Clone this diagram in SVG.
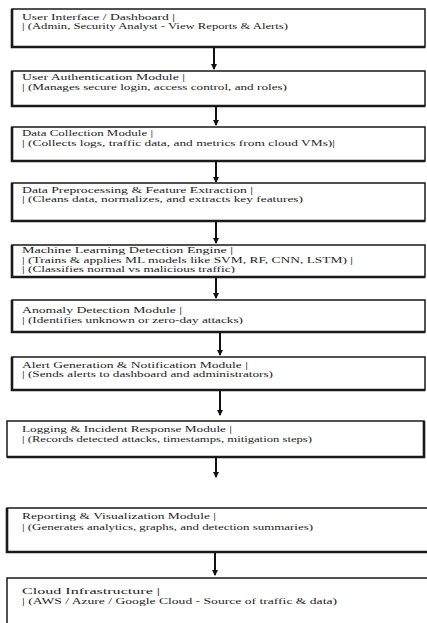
<svg xmlns="http://www.w3.org/2000/svg" width="427" height="623" viewBox="0 0 427 623">
<style>
.box{fill:#fff;stroke:#1a1a1a;stroke-width:1.5}
.sh{fill:none;stroke:#1a1a1a;stroke-width:2.6}
.t{font-family:"Liberation Serif","Times New Roman",serif;font-size:9px;fill:#222}
.c{stroke:#111;stroke-width:2;fill:none;marker-end:url(#ah)}
</style>
<defs>
<marker id="ah" markerWidth="7" markerHeight="6" refX="5" refY="3" orient="auto" markerUnits="userSpaceOnUse">
<path d="M0,0 L6,3 L0,6 Z" fill="#111"/>
</marker>
</defs>
<rect width="427" height="623" fill="#fff"/>
<g id="connectors">
<line class="c" x1="214" y1="47" x2="214" y2="69"/>
<line class="c" x1="216" y1="106" x2="216" y2="125"/>
<line class="c" x1="216" y1="161" x2="216" y2="182"/>
<line class="c" x1="216" y1="221" x2="216" y2="243"/>
<line class="c" x1="216" y1="277" x2="216" y2="298"/>
<line class="c" x1="220" y1="332" x2="220" y2="355"/>
<line class="c" x1="220" y1="390" x2="220" y2="415"/>
<line class="c" x1="216" y1="457" x2="216" y2="477"/>
<line class="c" x1="215" y1="552" x2="215" y2="575"/>
</g>
<g id="n1">
<rect class="box" x="12" y="9" width="413" height="38"/>
<path class="sh" d="M12,9 V47 H425"/>
<text class="t" x="22" y="19.5" textLength="153" lengthAdjust="spacingAndGlyphs">User Interface / Dashboard |</text>
<text class="t" x="22" y="29.3" textLength="266" lengthAdjust="spacingAndGlyphs">| (Admin, Security Analyst - View Reports &amp; Alerts)</text>
</g>
<g id="n2">
<rect class="box" x="12" y="71" width="413" height="35"/>
<path class="sh" d="M12,71 V106 H425"/>
<text class="t" x="22" y="80.2" textLength="163" lengthAdjust="spacingAndGlyphs">User Authentication Module |</text>
<text class="t" x="22" y="89.5" textLength="265" lengthAdjust="spacingAndGlyphs">| (Manages secure login, access control, and roles)</text>
</g>
<g id="n3">
<rect class="box" x="12" y="127" width="413" height="34"/>
<path class="sh" d="M12,127 V161 H425"/>
<text class="t" x="22" y="136.2" textLength="131" lengthAdjust="spacingAndGlyphs">Data Collection Module |</text>
<text class="t" x="22" y="145.7" textLength="313" lengthAdjust="spacingAndGlyphs">| (Collects logs, traffic data, and metrics from cloud VMs)|</text>
</g>
<g id="n4">
<rect class="box" x="12" y="183" width="413" height="38"/>
<path class="sh" d="M12,183 V221 H425"/>
<text class="t" x="22" y="192.7" textLength="231" lengthAdjust="spacingAndGlyphs">Data Preprocessing &amp; Feature Extraction |</text>
<text class="t" x="22" y="201.8" textLength="281" lengthAdjust="spacingAndGlyphs">| (Cleans data, normalizes, and extracts key features)</text>
</g>
<g id="n5">
<rect class="box" x="12" y="245" width="413" height="32"/>
<path class="sh" d="M12,245 V277 H425"/>
<text class="t" x="22" y="253.4" textLength="211" lengthAdjust="spacingAndGlyphs">Machine Learning Detection Engine |</text>
<text class="t" x="22" y="262.7" textLength="331" lengthAdjust="spacingAndGlyphs">| (Trains &amp; applies ML models like SVM, RF, CNN, LSTM) |</text>
<text class="t" x="22" y="271.9" textLength="213" lengthAdjust="spacingAndGlyphs">| (Classifies normal vs malicious traffic)</text>
</g>
<g id="n6">
<rect class="box" x="12" y="300" width="413" height="32"/>
<path class="sh" d="M12,300 V332 H425"/>
<text class="t" x="22" y="313.3" textLength="160" lengthAdjust="spacingAndGlyphs">Anomaly Detection Module |</text>
<text class="t" x="22" y="322.7" textLength="221" lengthAdjust="spacingAndGlyphs">| (Identifies unknown or zero-day attacks)</text>
</g>
<g id="n7">
<rect class="box" x="12" y="357" width="413" height="33"/>
<path class="sh" d="M12,357 V390 H425"/>
<text class="t" x="22" y="368.3" textLength="226" lengthAdjust="spacingAndGlyphs">Alert Generation &amp; Notification Module |</text>
<text class="t" x="22" y="377.3" textLength="251" lengthAdjust="spacingAndGlyphs">| (Sends alerts to dashboard and administrators)</text>
</g>
<g id="n8">
<rect class="box" x="7" y="421" width="417" height="36"/>
<path class="sh" d="M7,457 H424 V421"/>
<text class="t" x="22" y="431.7" textLength="210" lengthAdjust="spacingAndGlyphs">Logging &amp; Incident Response Module |</text>
<text class="t" x="22" y="441.7" textLength="290" lengthAdjust="spacingAndGlyphs">| (Records detected attacks, timestamps, mitigation steps)</text>
</g>
<g id="n9">
<rect class="box" x="7" y="508" width="425" height="44"/>
<path class="sh" d="M7,508 V552 H432"/>
<text class="t" x="22" y="519.3" textLength="194" lengthAdjust="spacingAndGlyphs">Reporting &amp; Visualization Module |</text>
<text class="t" x="22" y="530" textLength="291" lengthAdjust="spacingAndGlyphs">| (Generates analytics, graphs, and detection summaries)</text>
</g>
<g id="n10">
<rect class="box" x="7" y="578" width="425" height="46"/>
<text class="t" x="22" y="594" textLength="138" lengthAdjust="spacingAndGlyphs">Cloud Infrastructure |</text>
<text class="t" x="22" y="604.3" textLength="315" lengthAdjust="spacingAndGlyphs">| (AWS / Azure / Google Cloud - Source of traffic &amp; data)</text>
</g>
</svg>
